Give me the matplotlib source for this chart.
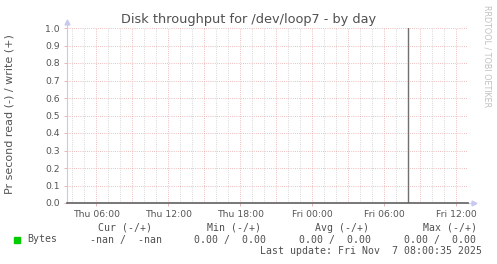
import matplotlib
matplotlib.use("Agg")
import matplotlib.pyplot as plt

# hours since Thu 00:00
hours = [3.6, 8.0, 14.0, 20.0, 26.0, 32.0]
read_bytes = [0.0, 0.0, 0.0, 0.0, 0.0, 0.0]
write_bytes = [0.0, 0.0, 0.0, 0.0, 0.0, 0.0]

tick_hours = [6, 12, 18, 24, 30, 36]
tick_labels = ["Thu 06:00", "Thu 12:00", "Thu 18:00", "Fri 00:00", "Fri 06:00", "Fri 12:00"]
major_hours = [6, 9, 12, 15, 18, 21, 24, 27, 30, 33, 36]
minor_hours = list(range(4, 38))
y_ticks = [0.0, 0.1, 0.2, 0.3, 0.4, 0.5, 0.6, 0.7, 0.8, 0.9, 1.0]
last_update_hour = 32.0

legend_head = ["Cur (-/+)", "Min (-/+)", "Avg (-/+)", "Max (-/+)"]
legend_vals = ["-nan /  -nan", "0.00 /  0.00", "0.00 /  0.00", "0.00 /  0.00"]

W, H = 497, 264
fig = plt.figure(figsize=(W / 100, H / 100), dpi=100, facecolor="white")
ax = fig.add_axes([67 / W, 1 - 203 / H, (468 - 67) / W, (203 - 28) / H])
ax.set_facecolor("white")

# grid
dots = (0, (1, 1.6))
for h in minor_hours:
    if h not in major_hours:
        ax.axvline(h, color="#cccccc", lw=0.6, ls=dots, zorder=1)
for h in major_hours:
    ax.axvline(h, color="#e8a8a8", lw=0.6, ls=dots, zorder=1)
for y in y_ticks[1:]:
    ax.axhline(y, color="#e8a8a8", lw=0.6, ls=dots, zorder=1)

# data (read negative, write positive) - sits under the zero rule
ax.plot(hours, [-v for v in read_bytes], color="#00cc00", lw=0.4, zorder=2)
ax.plot(hours, write_bytes, color="#00cc00", lw=0.4, zorder=2)

# zero line and last update rule
ax.axhline(0, color="#606060", lw=1.2, zorder=5, clip_on=False)
ax.axvline(last_update_hour, color="#707070", lw=1, zorder=3)

ax.set_xlim(3.58, 37.0)
ax.set_ylim(0, 1.0)

for s in ["top", "right", "bottom"]:
    ax.spines[s].set_visible(False)
ax.spines["left"].set_color("#c8c8f0")
ax.spines["left"].set_linewidth(0.8)

ax.set_xticks(tick_hours)
ax.set_xticklabels(tick_labels)
ax.set_yticks(y_ticks)
ax.set_yticklabels(["%.1f" % v for v in y_ticks])
ax.tick_params(axis="x", length=2, width=0.6, color="#e8a8a8", pad=3,
               labelsize=6.7, labelcolor="#555555")
ax.tick_params(axis="y", length=2, width=0.6, color="#e8a8a8", pad=3,
               labelsize=6.7, labelcolor="#555555")

# axis arrows
ax.plot([0], [1.035], marker="^", ms=3.5, color="#c8c8f0", transform=ax.transAxes, clip_on=False)
ax.plot([1.0, 1.012], [0, 0], color="#c8c8f0", lw=0.8, transform=ax.transAxes, clip_on=False)
ax.plot([1.014], [0], marker=">", ms=3.5, color="#c8c8f0", transform=ax.transAxes, clip_on=False)
ax.plot([0, 0], [1.0, 1.03], color="#c8c8f0", lw=0.8, transform=ax.transAxes, clip_on=False)

fig.text(248.5 / W, 1 - 20 / H, "Disk throughput for /dev/loop7 - by day",
         ha="center", va="center", fontsize=9.3, color="#505050")
fig.text(10 / W, 1 - 114 / H, "Pr second read (-) / write (+)", rotation=90,
         ha="center", va="center", fontsize=8, color="#555555")
fig.text(487 / W, 1 - 5 / H, "RRDTOOL / TOBI OETIKER", rotation=270,
         ha="center", va="top", fontsize=5.8, color="#c0c0c0")

# legend
mono = dict(family="DejaVu Sans Mono", fontsize=7.1, color="#505050", va="center")
head_x = [98, 207, 315, 423]
val_x = [90, 194, 299, 404]
for x, t in zip(head_x, legend_head):
    fig.text(x / W, 1 - 228 / H, t, ha="left", **mono)
fig.patches.append(plt.Rectangle((14 / W, 1 - 243 / H), 6 / W, 6 / H,
                                 transform=fig.transFigure, color="#00cc00", figure=fig))
fig.text(27 / W, 1 - 239.5 / H, "Bytes", ha="left", **mono)
for x, t in zip(val_x, legend_vals):
    fig.text(x / W, 1 - 239.5 / H, t, ha="left", **mono)
fig.text(482 / W, 1 - 251.5 / H, "Last update: Fri Nov  7 08:00:35 2025", ha="right", **mono)

fig.savefig("out.png", dpi=100, facecolor="white")
